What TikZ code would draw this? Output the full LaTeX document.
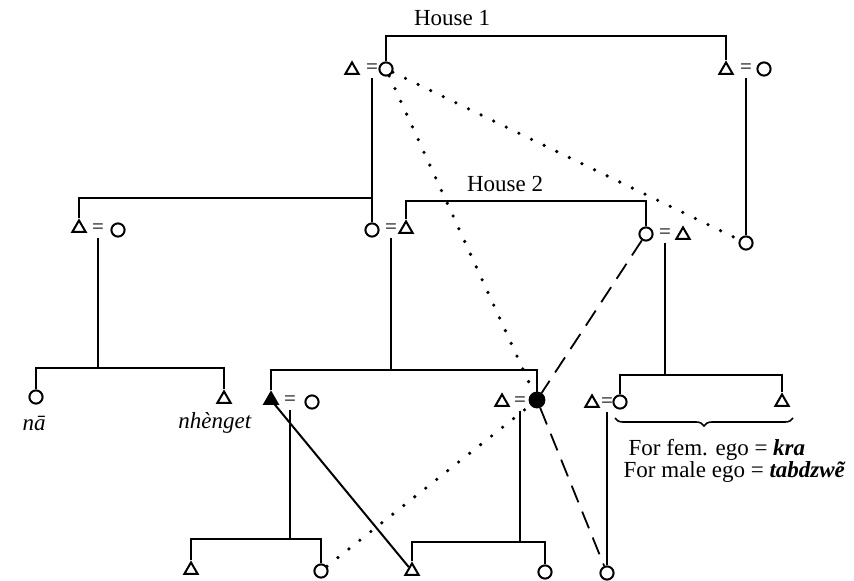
\documentclass[tikz,border=0pt]{standalone}
\usepackage{fontspec}
\setmainfont{Liberation Serif}
\usetikzlibrary{shapes.geometric,decorations.pathreplacing}

\begin{document}
\begin{tikzpicture}[x=0.5pt,y=-0.5pt,line width=1pt,
        male/.style={draw,regular polygon,regular polygon sides=3,minimum size=7.6pt,inner sep=0pt,line width=1pt},
        female/.style={draw,circle,minimum size=6.6pt,inner sep=0pt,line width=1pt},
        maleF/.style={male,fill=black},
        femaleF/.style={female,fill=black,minimum size=7.4pt},
        eq/.style={inner xsep=0pt,inner ysep=1.5pt,font=\fontsize{10.5}{12}\selectfont},
        lbl/.style={font=\fontsize{11.5}{13}\selectfont},
        dots/.style={line width=1.8pt,line cap=round,dash pattern=on 0pt off 7pt},
        dashes/.style={line width=0.9pt,dash pattern=on 9pt off 5pt}]
    \useasboundingbox (0,0) rectangle (854,581);
    % generation 1
    \node[male] (a1) at (352,70) {};
    \node[eq] (e1) at (372,69) {=};
    \node[female] (a2) at (386,69) {};
    \node[male] (b1) at (726,70) {};
    \node[eq] (e2) at (746,69) {=};
    \node[female] (b2) at (764,69) {};
    \node[lbl] (house1) at (452,18) {House 1};
    \coordinate (k0) at (556,36);
    \draw (a2.north) |- (k0) -| (b1.north);
    % generation 2
    \node[male] (c1) at (79,228) {};
    \node[eq] (e3) at (98,229) {=};
    \node[female] (c2) at (118,230) {};
    \node[female] (c4) at (372,230) {};
    \node[eq] (e4) at (391,229) {=};
    \node[male] (c5) at (406,229) {};
    \node[female] (d1) at (646,234) {};
    \node[eq] (e5) at (665,234) {=};
    \node[male] (d2) at (683,235) {};
    \node[female] (f1) at (746,243) {};
    \node[lbl] (house2) at (505,184) {House 2};
    \coordinate (k1) at (372,198);
    \coordinate (k2) at (520,201);
    \draw (e1.south) -- (c4.north);
    \draw (c1.north) |- (k1);
    \draw (c5.north) |- (k2) -| (d1.north);
    \draw (e2.south) -- (f1.north);
    % generation 3
    \node[female] (g1) at (36,397) {};
    \node[male] (g2) at (224,399) {};
    \node[lbl] (na) at (34,423) {\textit{nā}};
    \node[lbl] (nhenget) at (215,423) {\textit{nhènget}};
    \node[maleF] (h1) at (271,400) {};
    \node[eq] (e6) at (290,401) {=};
    \node[female] (h2) at (312,402) {};
    \node[male] (h3) at (502,402) {};
    \node[eq] (e7) at (520,402) {=};
    \node[femaleF] (h4) at (537,400) {};
    \node[male] (i1) at (592,403) {};
    \node[eq] (e8) at (607,403) {=};
    \node[female] (i2) at (620,402) {};
    \node[male] (i3) at (782,402) {};
    \coordinate (k3) at (98,368);
    \coordinate (k4) at (391,370);
    \coordinate (k5) at (665,375);
    \draw (e3.south) -- (k3);
    \draw (g1.north) |- (k3) -| (g2.north);
    \draw (e4.south) -- (k4);
    \draw (h1.north) |- (k4) -| (h4.north);
    \draw (e5.south) -- (k5);
    \draw (i2.north) |- (k5) -| (i3.north);
    \coordinate (br1) at (615,418);
    \coordinate (br2) at (793,418);
    \draw[line width=0.8pt,decorate,decoration={brace,mirror,amplitude=4pt}] (br1) -- (br2);
    \node[lbl,anchor=west] (fem) at (621,450) {For fem. ego = \textbf{\textit{kra}}};
    \node[lbl,anchor=west] (male) at (616,472) {For male ego = \textbf{\textit{tabdzwẽ}}};
    % generation 4
    \node[male] (j1) at (191,570) {};
    \node[female] (j2) at (321,571) {};
    \node[male] (j3) at (412,571) {};
    \node[female] (j4) at (545,572) {};
    \node[female] (j5) at (607,573) {};
    \coordinate (k6) at (290,539);
    \coordinate (k7) at (520,542);
    \draw (e6.south) -- (k6);
    \draw (j1.north) |- (k6) -| (j2.north);
    \draw (e7.south) -- (k7);
    \draw (j3.north) |- (k7) -| (j4.north);
    \draw (e8.south) -- (j5.north);
    % links across
    \draw[dots] (a2) -- (f1);
    \draw[dots] (a2) -- (h4);
    \draw[dots] (j2) -- (h4);
    \draw[dashes] (d1) -- (h4);
    \draw[dashes] (h4) -- (j5);
    \draw (h1) -- (j3);
\end{tikzpicture}
\end{document}
